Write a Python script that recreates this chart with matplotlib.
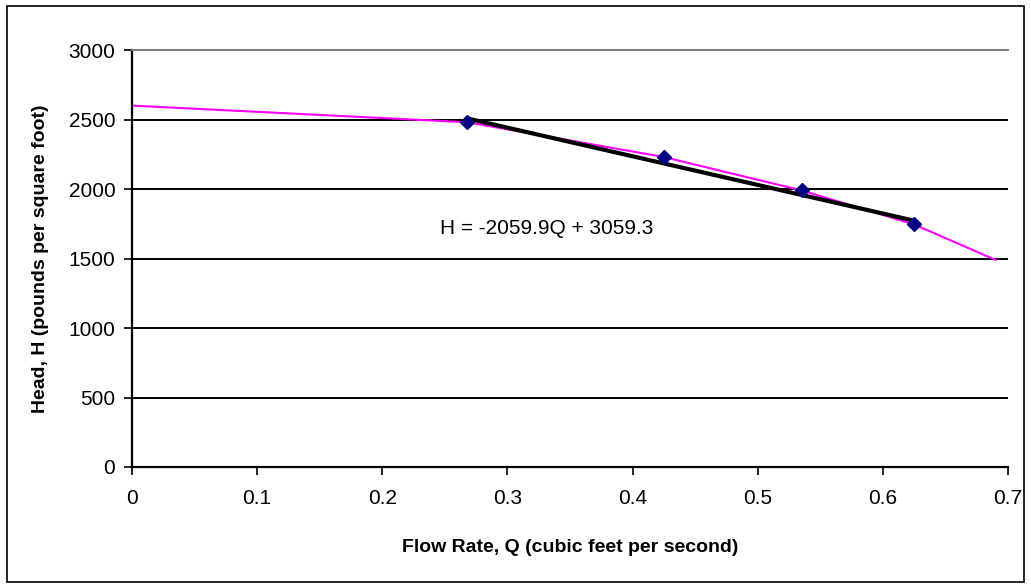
import numpy as np
import matplotlib.pyplot as plt
from matplotlib.patches import Rectangle

plt.rcParams['font.family'] = ['Liberation Sans', 'DejaVu Sans']

# measured pump points
q_pts = [0.268, 0.425, 0.535, 0.625]
h_pts = [2480, 2230, 1990, 1745]

# pump curve (magenta)
q_curve = [0.0, 0.268, 0.425, 0.535, 0.625, 0.69]
h_curve = [2600, 2480, 2230, 1990, 1745, 1490]

# linear fit
slope, intercept = -2059.9, 3059.3
eq_label = 'H = -2059.9Q + 3059.3'

x_ticks = [0, 0.1, 0.2, 0.3, 0.4, 0.5, 0.6, 0.7]
y_ticks = [0, 500, 1000, 1500, 2000, 2500, 3000]

fig = plt.figure(figsize=(10.31, 5.88), dpi=100)
ax = fig.add_axes([132 / 1031, 1 - 467 / 588, 876 / 1031, 417 / 588])

for yv in y_ticks[1:]:
    ax.axhline(yv, color='black', lw=1.4, zorder=1)

ax.plot(q_curve, h_curve, color='#ff00ff', lw=1.5, zorder=2)
q_fit = np.array([q_pts[0], q_pts[-1]])
ax.plot(q_fit, slope * q_fit + intercept, color='black', lw=3, zorder=3)
ax.plot(q_pts, h_pts, linestyle='none', marker='D', ms=7, color='#000080', zorder=4)

ax.text(0.331, 1715, eq_label, ha='center', va='center', fontsize=15)

ax.set_xlim(0, 0.7)
ax.set_ylim(0, 3000)
ax.set_xticks(x_ticks)
ax.set_xticklabels(['0' if v == 0 else f'{v:.1f}' for v in x_ticks])
ax.set_yticks(y_ticks)
ax.tick_params(axis='both', labelsize=15, direction='out', length=6, width=1.2, color='black')
ax.tick_params(axis='x', pad=10)
ax.tick_params(axis='y', pad=6)

ax.spines['right'].set_visible(False)
ax.spines['top'].set_color('#808080')
ax.spines['top'].set_linewidth(1.4)
ax.spines['left'].set_linewidth(1.6)
ax.spines['bottom'].set_linewidth(1.6)

ax.set_xlabel('Flow Rate, Q (cubic feet per second)', fontsize=14, fontweight='bold', labelpad=22)
ax.set_ylabel('Head, H (pounds per square foot)', fontsize=14, fontweight='bold', labelpad=14)

fig.patches.append(Rectangle((7 / 1031, 6 / 588), 1017 / 1031, 576 / 588,
                             transform=fig.transFigure, fill=False,
                             edgecolor='black', lw=1.2))

fig.savefig('out.png', dpi=100)
